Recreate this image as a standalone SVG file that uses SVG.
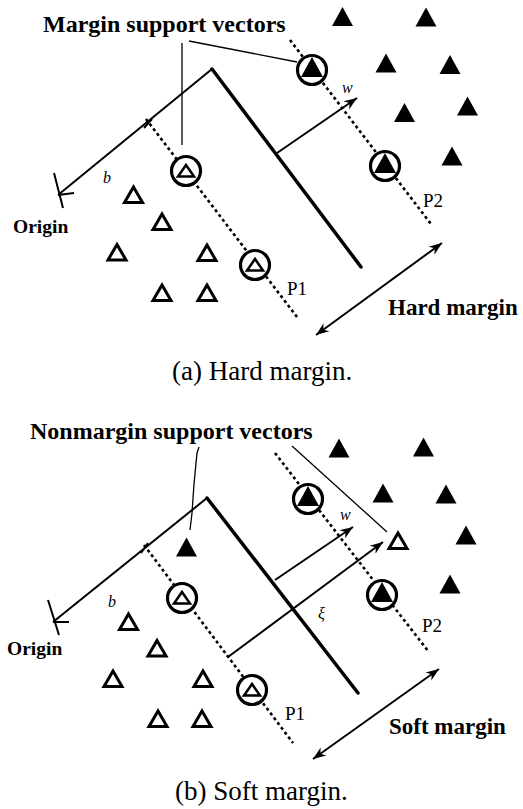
<svg xmlns="http://www.w3.org/2000/svg" width="523" height="809" viewBox="0 0 523 809">
  <style>
    .bg { fill: #ffffff; }
    .plane { stroke: #000; stroke-width: 3.5; fill: none; stroke-linecap: round; }
    .ln { stroke: #000; stroke-width: 2; fill: none; }
    .thin { stroke: #000; stroke-width: 1.3; fill: none; }
    .dot { stroke: #000; stroke-width: 2.6; fill: none; stroke-dasharray: 3 3; }
    .head { stroke: #000; stroke-width: 2.2; fill: none; }
    .title { font-family: "Liberation Serif", "Times New Roman", serif; font-weight: bold; font-size: 24px; fill: #000; }
    .big { font-family: "Liberation Serif", "Times New Roman", serif; font-weight: bold; font-size: 23px; fill: #000; }
    .org { font-family: "Liberation Serif", "Times New Roman", serif; font-weight: bold; font-size: 19.5px; fill: #000; }
    .pl { font-family: "Liberation Serif", "Times New Roman", serif; font-size: 19px; fill: #000; }
    .var { font-family: "Liberation Serif", "Times New Roman", serif; font-style: italic; font-size: 16px; fill: #000; }
    .cap { font-family: "Liberation Serif", "Times New Roman", serif; font-size: 27px; fill: #000; }
  </style>
  <defs>
    <marker id="ah" viewBox="-14 -6 15 12" refX="0" refY="0" markerWidth="15" markerHeight="12" markerUnits="userSpaceOnUse" orient="auto-start-reverse">
      <path d="M0,0 L-13,-5 L-9,0 L-13,5 Z" fill="#000"/>
    </marker>
    <!-- class +1 point (solid) and class -1 point (hollow) -->
    <path id="tf" d="M0,-9.5 L10.5,9.5 L-10.5,9.5 Z" fill="#000"/>
    <path id="to" d="M0,-7 L9,8.5 L-9,8.5 Z" fill="#fff" stroke="#000" stroke-width="3" stroke-linejoin="miter"/>
    <!-- support vectors on the margins -->
    <g id="svf">
      <circle r="14.5" fill="#fff" stroke="#000" stroke-width="3.2"/>
      <path d="M0,-13 L11,7 L-11,7 Z" fill="#000"/>
    </g>
    <g id="svo">
      <circle r="14.5" fill="#fff" stroke="#000" stroke-width="3.2"/>
      <path d="M0,-6 L8,5.5 L-8,5.5 Z" fill="none" stroke="#000" stroke-width="2.5"/>
    </g>
  </defs>

  <rect class="bg" x="0" y="0" width="523" height="809"/>

  <!-- ===== (a) hard margin ===== -->
  <g id="connectors-a">
    <line class="dot" x1="290" y1="40" x2="431" y2="224"/>
    <line class="dot" x1="146" y1="119" x2="297" y2="317"/>
    <line class="ln" x1="144" y1="128" x2="152" y2="119"/>
    <line class="plane" x1="212" y1="69" x2="361" y2="267"/>
    <line class="ln" x1="212" y1="69" x2="58" y2="195"/>
    <line class="ln" x1="54" y1="173" x2="63" y2="208"/>
    <line class="ln" x1="58" y1="195" x2="74" y2="193"/>
    <line class="ln" x1="277" y1="153" x2="357" y2="98" marker-end="url(#ah)"/>
    <line class="thin" x1="182" y1="43" x2="182" y2="145"/>
    <line class="thin" x1="189" y1="41" x2="297" y2="62"/>
    <line class="ln" x1="316" y1="335" x2="442" y2="243" marker-start="url(#ah)" marker-end="url(#ah)"/>
  </g>

  <g id="sv-a1"><use href="#svf" x="312" y="70"/></g>
  <g id="sv-a2"><use href="#svf" x="385" y="166"/></g>
  <g id="sv-a3"><use href="#svo" x="186" y="171"/></g>
  <g id="sv-a4"><use href="#svo" x="255" y="265"/></g>

  <g id="pos-a">
    <use href="#tf" x="342.5" y="16.5"/>
    <use href="#tf" x="426" y="17"/>
    <use href="#tf" x="386" y="63"/>
    <use href="#tf" x="450" y="64.5"/>
    <use href="#tf" x="404.5" y="112.5"/>
    <use href="#tf" x="467.5" y="106"/>
    <use href="#tf" x="452" y="156"/>
  </g>
  <g id="neg-a">
    <use href="#to" x="133.5" y="194"/>
    <use href="#to" x="162" y="221"/>
    <use href="#to" x="117" y="251.5"/>
    <use href="#to" x="207" y="252"/>
    <use href="#to" x="162" y="292"/>
    <use href="#to" x="207" y="292"/>
  </g>

  <g id="labels-a">
    <text class="title" x="43" y="32">Margin support vectors</text>
    <text class="var" x="342" y="93">w</text>
    <text class="var" x="103" y="183">b</text>
    <text class="org" x="13" y="233">Origin</text>
    <text class="pl" x="423" y="207">P2</text>
    <text class="pl" x="287" y="295">P1</text>
    <text class="big" x="388" y="315">Hard margin</text>
    <text class="cap" x="172" y="380">(a) Hard margin.</text>
  </g>

  <!-- ===== (b) soft margin ===== -->
  <g id="connectors-b">
    <line class="dot" x1="275" y1="453" x2="428" y2="651"/>
    <line class="dot" x1="144" y1="545" x2="293" y2="743"/>
    <line class="ln" x1="141" y1="553" x2="148" y2="543"/>
    <line class="thin" x1="292" y1="446" x2="387" y2="532"/>
    <line class="plane" x1="207" y1="498" x2="358" y2="693"/>
    <line class="ln" x1="207" y1="498" x2="53" y2="622"/>
    <line class="ln" x1="48" y1="600" x2="59" y2="635"/>
    <line class="ln" x1="53" y1="622" x2="69" y2="622"/>
    <line class="ln" x1="275" y1="580" x2="353" y2="527" marker-end="url(#ah)"/>
    <line class="ln" x1="228" y1="657" x2="383" y2="542" marker-end="url(#ah)"/>
    <polyline class="thin" points="199,447 197,453 194,484 192,513 190,530"/>
    <line class="ln" x1="313" y1="759" x2="439" y2="669" marker-start="url(#ah)" marker-end="url(#ah)"/>
  </g>

  <g id="sv-b1"><use href="#svf" x="308" y="499"/></g>
  <g id="sv-b2"><use href="#svf" x="382" y="595"/></g>
  <g id="sv-b3"><use href="#svo" x="182" y="598"/></g>
  <g id="sv-b4"><use href="#svo" x="252" y="690"/></g>

  <g id="nonmargin-sv"><use href="#tf" x="186.5" y="547"/></g>
  <g id="slack-point"><use href="#to" x="398" y="540"/></g>

  <g id="pos-b">
    <use href="#tf" x="339" y="448"/>
    <use href="#tf" x="423.5" y="447"/>
    <use href="#tf" x="383" y="493"/>
    <use href="#tf" x="446" y="494"/>
    <use href="#tf" x="466" y="535"/>
    <use href="#tf" x="450" y="584"/>
  </g>
  <g id="neg-b">
    <use href="#to" x="128.5" y="621"/>
    <use href="#to" x="157" y="647.5"/>
    <use href="#to" x="113" y="678"/>
    <use href="#to" x="203" y="678"/>
    <use href="#to" x="158" y="718"/>
    <use href="#to" x="202" y="718"/>
  </g>

  <g id="labels-b">
    <text class="title" x="30" y="439">Nonmargin support vectors</text>
    <text class="var" x="340" y="520">w</text>
    <text class="var" x="108" y="607">b</text>
    <text class="org" x="7" y="655">Origin</text>
    <text class="var" x="318" y="619">ξ</text>
    <text class="pl" x="422" y="632">P2</text>
    <text class="pl" x="285" y="720">P1</text>
    <text class="big" x="389" y="734">Soft margin</text>
    <text class="cap" x="175" y="800">(b) Soft margin.</text>
  </g>
</svg>
